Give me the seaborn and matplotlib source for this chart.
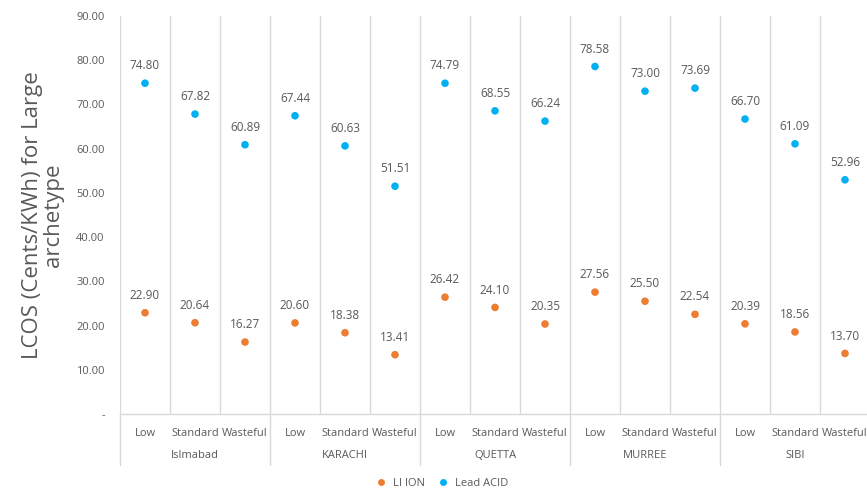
import matplotlib
matplotlib.use("Agg")
import matplotlib.pyplot as plt
from matplotlib.lines import Line2D
import seaborn as sns
import pandas as pd

cities = ["Islmabad", "KARACHI", "QUETTA", "MURREE", "SIBI"]
archetypes = ["Low", "Standard", "Wasteful"]
li_ion = [22.90, 20.64, 16.27, 20.60, 18.38, 13.41, 26.42, 24.10, 20.35,
          27.56, 25.50, 22.54, 20.39, 18.56, 13.70]
lead_acid = [74.80, 67.82, 60.89, 67.44, 60.63, 51.51, 74.79, 68.55, 66.24,
             78.58, 73.00, 73.69, 66.70, 61.09, 52.96]
series_names = ["LI ION", "Lead ACID"]
yticks = [0, 10, 20, 30, 40, 50, 60, 70, 80, 90]

colors = {"LI ION": "#ED7D31", "Lead ACID": "#00B0F0"}
text_gray = "#595959"
grid_gray = "#D9D9D9"

sns.set_theme(style="white")
plt.rcParams["font.family"] = ["Open Sans", "DejaVu Sans"]

n = len(cities) * len(archetypes)
pos = list(range(n))
df = pd.DataFrame({
    "pos": pos * 2,
    "value": li_ion + lead_acid,
    "series": [series_names[0]] * n + [series_names[1]] * n,
})

fig = plt.figure(figsize=(8.67, 4.9), dpi=100)
ax = fig.add_axes([120 / 867, 1 - 414 / 490, 750 / 867, 398 / 490])

sns.scatterplot(data=df, x="pos", y="value", hue="series", palette=colors,
                s=30, edgecolor="none", legend=False, ax=ax, zorder=3)

ax.set_xlim(-0.5, n - 0.5)
ax.set_ylim(0, 90)

# data labels above each marker
for _, r in df.iterrows():
    ax.annotate(f"{r['value']:.2f}", (r["pos"], r["value"]), xytext=(0, 12.5),
                textcoords="offset points", ha="center", va="center",
                fontsize=8.5, color=text_gray, zorder=4)

# y axis
ax.set_yticks(yticks)
ax.set_yticklabels(["-" if v == 0 else f"{v:.2f}" for v in yticks],
                   fontsize=8, color=text_gray)
ax.tick_params(axis="y", length=0, pad=11)
ax.set_ylabel("LCOS (Cents/KWh) for Large\narchetype", fontsize=16,
              color=text_gray, labelpad=9, linespacing=1.0)

# category separators inside the plot
for b in range(n + 1):
    ax.axvline(b - 0.5, color=grid_gray, lw=1, zorder=1)

for s in ["top", "right", "left"]:
    ax.spines[s].set_visible(False)
ax.spines["bottom"].set_color(grid_gray)
ax.spines["bottom"].set_linewidth(1)

# multi-level category axis
ax.set_xticks(pos)
ax.set_xticklabels(archetypes * len(cities), fontsize=8, color=text_gray)
ax.tick_params(axis="x", length=0, pad=10)
ax.set_xlabel("")

trans = ax.get_xaxis_transform()
for g, city in enumerate(cities):
    center = g * 3 + 1
    ax.text(center, -0.105, city, transform=trans, ha="center", va="center",
            fontsize=8, color=text_gray, clip_on=False)
for g in range(len(cities) + 1):
    ax.plot([g * 3 - 0.5, g * 3 - 0.5], [0, -0.128], transform=trans,
            color=grid_gray, lw=1, clip_on=False)

handles = [Line2D([], [], marker="o", linestyle="none", markersize=5,
                  markerfacecolor=colors[name], markeredgecolor="none",
                  label=name) for name in series_names]
fig.legend(handles=handles, loc="center", bbox_to_anchor=(0.506, 1 - 483 / 490),
           ncol=2, frameon=False, fontsize=8, handletextpad=0.1,
           columnspacing=0.6, labelcolor=text_gray)

fig.savefig("out.png", dpi=100)
